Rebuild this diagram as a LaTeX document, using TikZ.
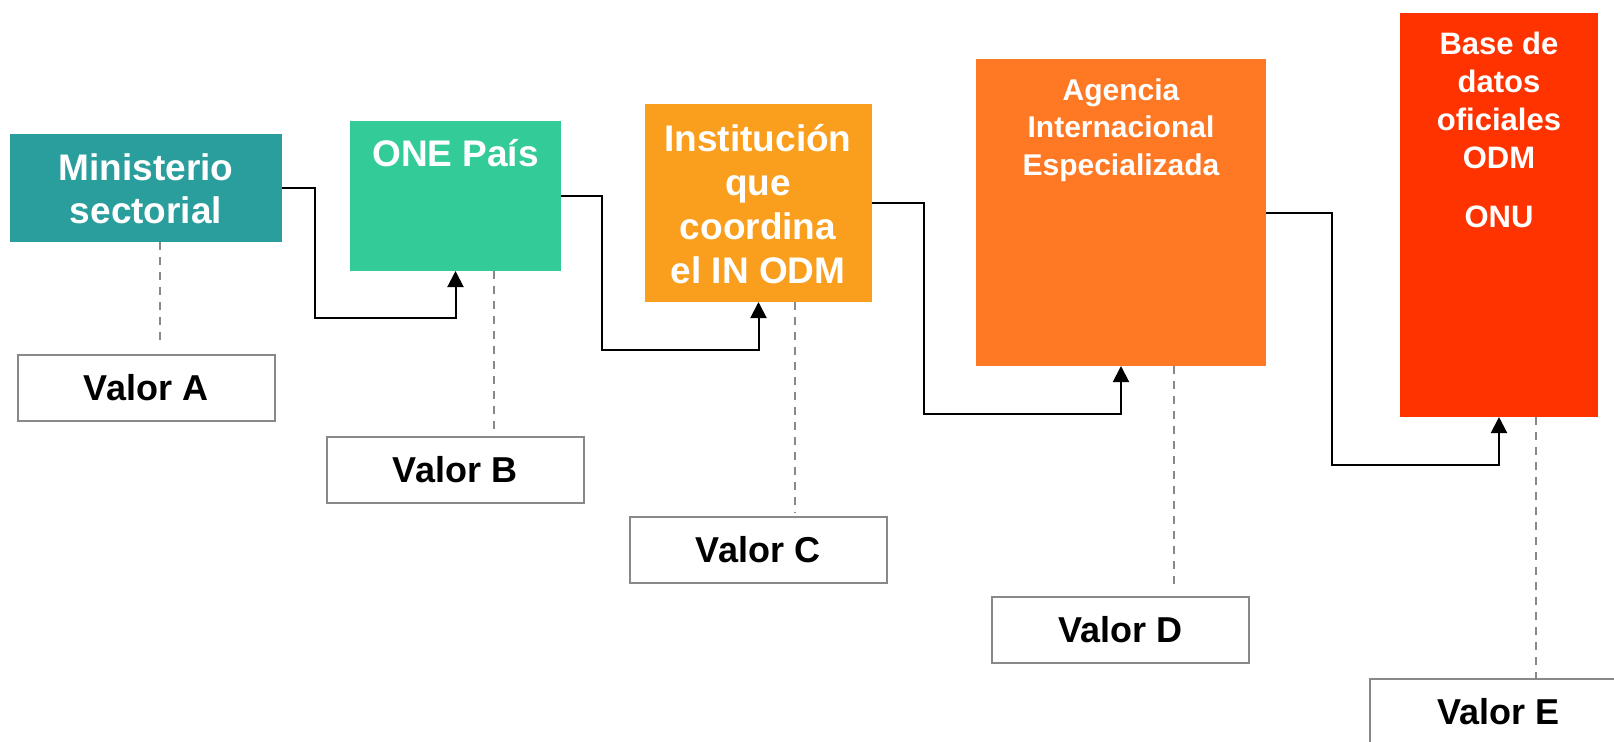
\documentclass[tikz,border=0pt]{standalone}
\usepackage{fontspec}
\setmainfont{Liberation Sans}
\usetikzlibrary{arrows.meta}
\definecolor{cteal}{HTML}{2A9E9C}
\definecolor{cmint}{HTML}{33CC99}
\definecolor{cyel}{HTML}{FA9E1E}
\definecolor{corg}{HTML}{FF7824}
\definecolor{cred}{HTML}{FF3300}
\definecolor{cgray}{HTML}{888888}
\tikzset{
  box/.style={anchor=north west, inner sep=0pt, outer sep=0pt, draw=none},
  boxtxt/.style={anchor=base, inner sep=0pt, align=center, text=white, font=\bfseries\fontsize{18.5}{21.5}\selectfont},
  valbox/.style={draw=cgray, line width=1pt, fill=white, inner sep=0pt, minimum width=257*0.5pt, minimum height=66*0.5pt, font=\bfseries\fontsize{18}{21}\selectfont},
  conn/.style={draw=black, line width=1pt, -{Triangle[width=8pt,length=8pt]}},
  dashln/.style={draw=cgray, line width=1.1pt, dash pattern=on 4pt off 3.5pt}
}
\begin{document}
\begin{tikzpicture}[x=0.5pt, y=-0.5pt]
\useasboundingbox (0,0) rectangle (1614,741);
\clip (0,0) rectangle (1614,741);
% main boxes
\node[box, fill=cteal, minimum width=272*0.5pt, minimum height=108*0.5pt] (min) at (10,134) {};
\node[box, fill=cmint, minimum width=211*0.5pt, minimum height=150.5*0.5pt] (one) at (350,120.5) {};
\node[box, fill=cyel, minimum width=227*0.5pt, minimum height=198*0.5pt] (inst) at (645,104) {};
\node[box, fill=corg, minimum width=290*0.5pt, minimum height=307*0.5pt] (age) at (976,59) {};
\node[box, fill=cred, minimum width=198*0.5pt, minimum height=404*0.5pt] (bas) at (1400,13) {};
% texts (anchor = baseline of last line)
\node[boxtxt] (tmin) at (146,223) {Ministerio\\sectorial};
\node[boxtxt] (tone) at (455.5,166) {ONE País};
\node[boxtxt, font=\bfseries\fontsize{18.5}{22}\selectfont] (tinst) at (758,283) {Institución\\que\\coordina\\el IN ODM};
\node[boxtxt, font=\bfseries\fontsize{15}{18.75}\selectfont] (tage) at (1121,175) {Agencia\\Internacional\\Especializada};
\node[boxtxt, font=\bfseries\fontsize{15.5}{19}\selectfont] (tbas) at (1499,227) {Base de\\datos\\oficiales\\ODM\\[10.5pt]ONU};
% value boxes
\node[valbox] (va) at (146,388) {Valor A};
\node[valbox] (vb) at (455,469.5) {Valor B};
\node[valbox] (vc) at (758,549.5) {Valor C};
\node[valbox] (vd) at (1120.5,629.5) {Valor D};
\node[valbox] (ve) at (1498.5,711.5) {Valor E};
% dashed leaders
\coordinate (da) at (160,344);
\coordinate (db) at (494,436);
\coordinate (dc) at (795,513);
\coordinate (dd) at (1174,588);
\coordinate (de) at (1536,678);
\draw[dashln] (min.south -| da) -- (da);
\draw[dashln] (one.south -| db) -- (db);
\draw[dashln] (inst.south -| dc) -- (dc);
\draw[dashln] (age.south -| dd) -- (dd);
\draw[dashln] (bas.south -| de) -- (de);
% connectors
\coordinate (c1) at (315,318);
\coordinate (c2) at (602,350);
\coordinate (c3) at (924,414);
\coordinate (c4) at (1332,465);
\draw[conn] (min.east) -| (c1) -| (one.south);
\draw[conn] (one.east) -| (c2) -| (inst.south);
\draw[conn] (inst.east) -| (c3) -| (age.south);
\draw[conn] (age.east) -| (c4) -| (bas.south);
\end{tikzpicture}
\end{document}
